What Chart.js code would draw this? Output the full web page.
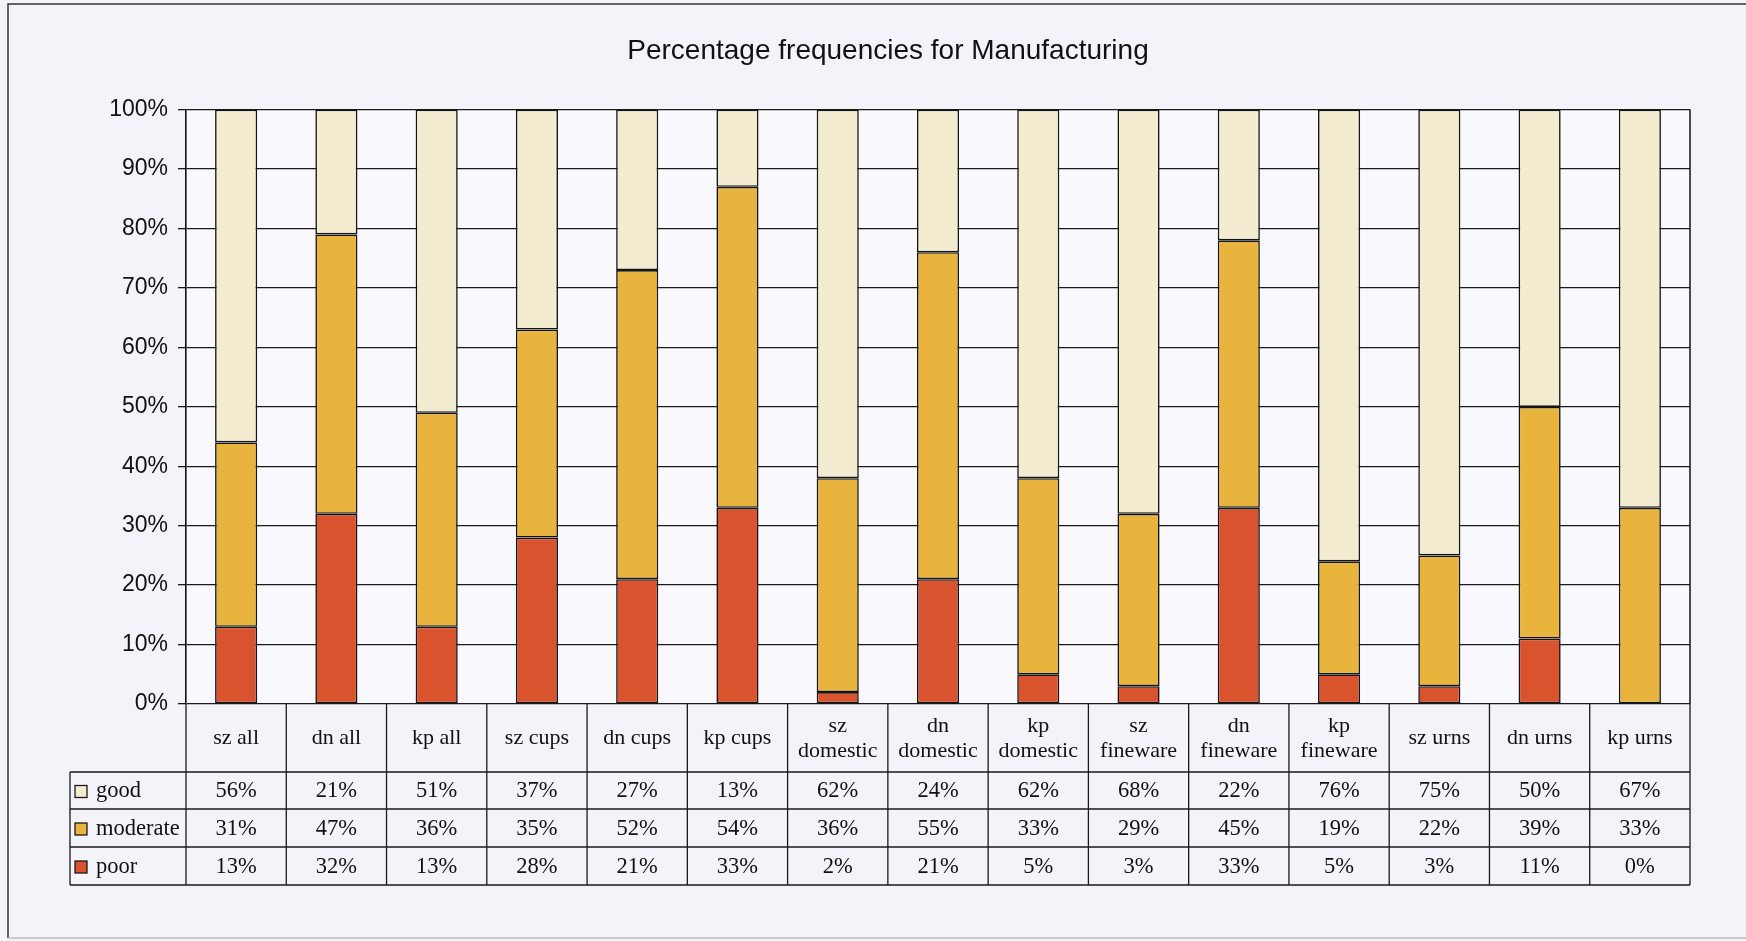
<!DOCTYPE html>
<html>
<head>
<meta charset="utf-8">
<script src="https://cdn.jsdelivr.net/npm/chart.js@4.4.1/dist/chart.umd.min.js"></script>
<style>
  html, body { margin: 0; padding: 0; background: #f4f3f9; }
  canvas { display: block; }
</style>
</head>
<body>
<canvas id="chart" width="1746" height="941"></canvas>
<script>
const categories = ["sz all", "dn all", "kp all", "sz cups", "dn cups", "kp cups",
    ["sz", "domestic"], ["dn", "domestic"], ["kp", "domestic"],
    ["sz", "fineware"], ["dn", "fineware"], ["kp", "fineware"],
    "sz urns", "dn urns", "kp urns"];
const good     = [56, 21, 51, 37, 27, 13, 62, 24, 62, 68, 22, 76, 75, 50, 67];
const moderate = [31, 47, 36, 35, 52, 54, 36, 55, 33, 29, 45, 19, 22, 39, 33];
const poor     = [13, 32, 13, 28, 21, 33,  2, 21,  5,  3, 33,  5,  3, 11,  0];
const yMax = 100;
const yStep = 10;

const colors = {
    good: "#f3ecd0",
    moderate: "#e9b43e",
    poor: "#d9532f"
};

const serif = "'Liberation Serif', 'Times New Roman', serif";
const sans = "'Liberation Sans', Arial, sans-serif";

// page background, frame and white plot area
const backdrop = {
    id: "backdrop",
    beforeDraw(chart) {
        const ctx = chart.ctx, a = chart.chartArea;
        ctx.save();
        ctx.fillStyle = "#f4f3f9";
        ctx.fillRect(0, 0, chart.width, chart.height);
        ctx.fillStyle = "#f9f9fd";
        ctx.fillRect(a.left, a.top, a.right - a.left, a.bottom - a.top);
        ctx.strokeStyle = "#333";
        ctx.lineWidth = 1.5;
        ctx.beginPath();
        ctx.moveTo(8, chart.height - 3);
        ctx.lineTo(8, 4);
        ctx.lineTo(chart.width, 4);
        ctx.stroke();
        ctx.strokeStyle = "#bbb";
        ctx.beginPath();
        ctx.moveTo(8, chart.height - 3);
        ctx.lineTo(chart.width, chart.height - 3);
        ctx.stroke();
        ctx.restore();
    },
    beforeDatasetsDraw(chart) {
        const ctx = chart.ctx, a = chart.chartArea;
        ctx.save();
        ctx.strokeStyle = "#111";
        ctx.lineWidth = 1.5;
        ctx.beginPath();
        ctx.moveTo(a.right, a.top);
        ctx.lineTo(a.right, a.bottom);
        ctx.stroke();
        ctx.restore();
    }
};

// data table under the plot, columns follow the x scale
const dataTable = {
    id: "dataTable",
    afterDraw(chart) {
        const ctx = chart.ctx, a = chart.chartArea, x = chart.scales.x;
        const n = categories.length;
        const colW = (a.right - a.left) / n;
        const labelTop = a.bottom, labelBottom = a.bottom + 68;
        const rows = [
            { name: "good", data: good, color: colors.good },
            { name: "moderate", data: moderate, color: colors.moderate },
            { name: "poor", data: poor, color: colors.poor }
        ];
        const rowLines = [labelBottom, labelBottom + 37, labelBottom + 75, labelBottom + 113];
        const legendLeft = 70;

        ctx.save();
        ctx.strokeStyle = "#1a1a1a";
        ctx.lineWidth = 1.3;
        ctx.beginPath();
        // vertical lines of the label row and data rows
        for (let i = 0; i <= n; i++) {
            const px = a.left + i * colW;
            ctx.moveTo(px, labelTop);
            ctx.lineTo(px, rowLines[3]);
        }
        ctx.moveTo(legendLeft, rowLines[0]);
        ctx.lineTo(legendLeft, rowLines[3]);
        rowLines.forEach(y => {
            ctx.moveTo(legendLeft, y);
            ctx.lineTo(a.right, y);
        });
        ctx.stroke();

        ctx.fillStyle = "#111";
        ctx.textAlign = "center";
        ctx.textBaseline = "middle";
        ctx.font = "22px " + serif;
        categories.forEach((lab, i) => {
            const cx = x.getPixelForValue(i);
            const mid = (labelTop + labelBottom) / 2;
            if (Array.isArray(lab)) {
                ctx.fillText(lab[0], cx, mid - 12);
                ctx.fillText(lab[1], cx, mid + 13);
            } else {
                ctx.fillText(lab, cx, mid);
            }
        });

        ctx.font = "22.5px " + serif;
        rows.forEach((r, ri) => {
            const cy = (rowLines[ri] + rowLines[ri + 1]) / 2 + 1;
            r.data.forEach((v, i) => {
                ctx.fillText(v + "%", x.getPixelForValue(i), cy);
            });
            ctx.fillStyle = r.color;
            ctx.fillRect(legendLeft + 5, cy - 6, 12, 12);
            ctx.strokeRect(legendLeft + 5, cy - 6, 12, 12);
            ctx.fillStyle = "#111";
            ctx.textAlign = "left";
            ctx.fillText(r.name, legendLeft + 26, cy);
            ctx.textAlign = "center";
        });
        ctx.restore();
    }
};

new Chart(document.getElementById("chart"), {
    type: "bar",
    data: {
        labels: categories,
        datasets: [
            { label: "poor", data: poor, backgroundColor: colors.poor },
            { label: "moderate", data: moderate, backgroundColor: colors.moderate },
            { label: "good", data: good, backgroundColor: colors.good }
        ]
    },
    options: {
        responsive: false,
        animation: false,
        devicePixelRatio: 1,
        layout: { padding: { left: 86, right: 56, top: 18, bottom: 56 } },
        datasets: {
            bar: {
                barPercentage: 0.42,
                categoryPercentage: 1,
                borderColor: "#151515",
                borderWidth: 1.6,
                borderSkipped: false
            }
        },
        plugins: {
            legend: { display: false },
            tooltip: { enabled: false },
            title: {
                display: true,
                text: "Percentage frequencies for Manufacturing",
                color: "#111",
                font: { family: sans, size: 28, weight: "normal" },
                padding: { top: 16, bottom: 42 }
            }
        },
        scales: {
            x: {
                stacked: true,
                grid: { display: false },
                border: { display: false },
                ticks: { display: false },
                afterFit: s => { s.height = 181; }
            },
            y: {
                stacked: true,
                min: 0,
                max: yMax,
                ticks: {
                    stepSize: yStep,
                    color: "#111",
                    padding: 10,
                    font: { family: sans, size: 23 },
                    callback: v => v + "%"
                },
                grid: { color: "#1a1a1a", lineWidth: 1.3, tickLength: 8 },
                border: { color: "#111", width: 1.6 },
                afterFit: s => { s.width = 100; }
            }
        }
    },
    plugins: [backdrop, dataTable]
});
</script>
</body>
</html>
